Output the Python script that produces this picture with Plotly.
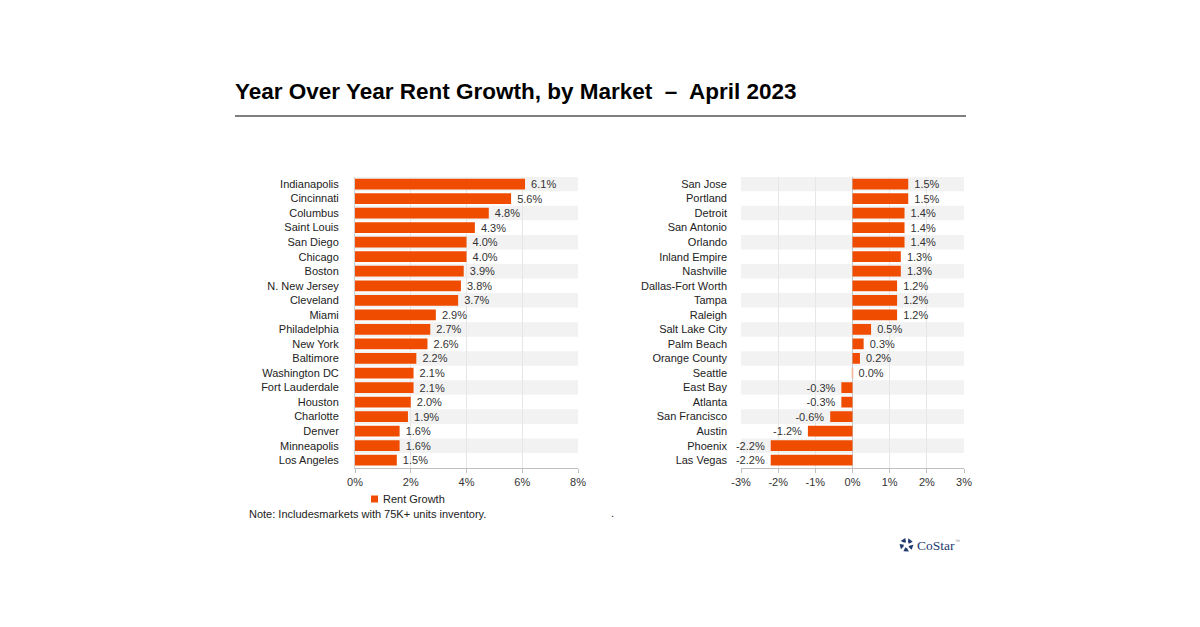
import math
import plotly.graph_objects as go

left_markets = ["Indianapolis", "Cincinnati", "Columbus", "Saint Louis", "San Diego", "Chicago",
                "Boston", "N. New Jersey", "Cleveland", "Miami", "Philadelphia", "New York",
                "Baltimore", "Washington DC", "Fort Lauderdale", "Houston", "Charlotte",
                "Denver", "Minneapolis", "Los Angeles"]
left_values = [6.1, 5.6, 4.8, 4.3, 4.0, 4.0, 3.9, 3.8, 3.7, 2.9, 2.7, 2.6, 2.2, 2.1, 2.1,
               2.0, 1.9, 1.6, 1.6, 1.5]

right_markets = ["San Jose", "Portland", "Detroit", "San Antonio", "Orlando", "Inland Empire",
                 "Nashville", "Dallas-Fort Worth", "Tampa", "Raleigh", "Salt Lake City",
                 "Palm Beach", "Orange County", "Seattle", "East Bay", "Atlanta",
                 "San Francisco", "Austin", "Phoenix", "Las Vegas"]
right_values = [1.5, 1.5, 1.4, 1.4, 1.4, 1.3, 1.3, 1.2, 1.2, 1.2, 0.5, 0.3, 0.2, 0.0, -0.3,
                -0.3, -0.6, -1.2, -2.2, -2.2]

left_ticks = [0, 2, 4, 6, 8]
left_tick_labels = ["0%", "2%", "4%", "6%", "8%"]
right_ticks = [-3, -2, -1, 0, 1, 2, 3]
right_tick_labels = ["-3%", "-2%", "-1%", "0%", "1%", "2%", "3%"]

series_name = "Rent Growth"
BAR = "#F04C00"
FONT = "Liberation Sans, Arial, sans-serif"
NAVY = "#1E3A6E"
W, H = 1200, 627
NB = "\u00a0"

fig = go.Figure()

for vals, cats, xa, ya in [(left_values, left_markets, "x", "y"),
                           (right_values, right_markets, "x2", "y2")]:
    # zero-valued bars still show as a faint sliver, as in the reference
    line_w = [1.6 if v == 0 else 0 for v in vals]
    labels = [(f"{v:.1f}%{NB}" if v < 0 else f"{NB}{v:.1f}%") for v in vals]
    fig.add_trace(go.Bar(
        x=vals, y=cats, orientation="h", xaxis=xa, yaxis=ya,
        marker=dict(color=BAR, line=dict(width=line_w, color="#F3B89C")),
        text=labels, textposition="outside",
        textfont=dict(size=11, color="#333333", family=FONT),
        cliponaxis=False, constraintext="none", showlegend=False, name=series_name,
    ))


def px(x):
    return x / W


def py(y):
    return 1 - y / H


ydom = [py(467.5), py(176.75)]

axis_common = dict(
    showgrid=True, gridcolor="#E6E6E6", gridwidth=1,
    showline=True, linecolor="#BFBFBF", linewidth=1,
    ticks="outside", ticklen=4, tickcolor="#BFBFBF", tickmode="array",
    tickfont=dict(size=11, color="#333333", family=FONT),
    zeroline=False, fixedrange=True,
)
fig.update_layout(
    xaxis=dict(domain=[px(355), px(578)], range=[0, 8], tickvals=left_ticks,
               ticktext=left_tick_labels, anchor="y", **axis_common),
    xaxis2=dict(domain=[px(741), px(964)], range=[-3, 3], tickvals=right_ticks,
                ticktext=right_tick_labels, anchor="y2", **axis_common),
    yaxis=dict(domain=ydom, autorange="reversed", anchor="x", showgrid=False, showline=True,
               linecolor="#D0D0D0", ticks="", ticklabelstandoff=13, fixedrange=True,
               tickfont=dict(size=11, color="#222222", family=FONT)),
    yaxis2=dict(domain=ydom, autorange="reversed", anchor="x2", showgrid=False, showline=False,
                ticks="", ticklabelstandoff=13, fixedrange=True,
                tickfont=dict(size=11, color="#222222", family=FONT)),
)
fig.update_layout(xaxis2_zeroline=True, xaxis2_zerolinecolor="#C8C8C8", xaxis2_zerolinewidth=1)

shapes = []
for i in range(0, 20, 2):
    for xr, yr in [("x domain", "y"), ("x2 domain", "y2")]:
        shapes.append(dict(type="rect", xref=xr, yref=yr, x0=0, x1=1, y0=i - 0.5, y1=i + 0.5,
                           fillcolor="#F2F2F2", line=dict(width=0), layer="below"))

# title underline
shapes.append(dict(type="line", xref="paper", yref="paper", x0=px(235), x1=px(966),
                   y0=py(116), y1=py(116), line=dict(color="#000000", width=1)))
# legend swatch
shapes.append(dict(type="rect", xref="paper", yref="paper", x0=px(371), x1=px(378),
                   y0=py(502.5), y1=py(495.5), fillcolor=BAR, line=dict(width=0)))

# CoStar logo mark: pinwheel of five blocky pieces
cx, cy = 906.5, 545.0
r_in, r_out = 2.6, 7.0
for k in range(5):
    a = math.radians(100 + k * 72)
    a2 = a + math.radians(46)
    pts = []
    for ang, rad in [(a, r_in), (a, r_out), (a2, r_out), (a2 - math.radians(8), r_in + 1.0)]:
        X = cx + rad * math.cos(ang)
        Y = cy - rad * math.sin(ang)
        pts.append(f"{px(X):.5f},{py(Y):.5f}")
    path = "M" + " L".join(pts) + " Z"
    shapes.append(dict(type="path", xref="paper", yref="paper", path=path,
                       fillcolor=NAVY, line=dict(width=0)))

annotations = [
    dict(text="<b>Year Over Year Rent Growth, by Market  –  April 2023</b>", x=px(233), y=py(92),
         xref="paper", yref="paper", xanchor="left", yanchor="middle", showarrow=False,
         font=dict(size=22.5, color="#000000", family=FONT)),
    dict(text=series_name, x=px(381), y=py(499), xref="paper", yref="paper", xanchor="left",
         yanchor="middle", showarrow=False, font=dict(size=11, color="#222222", family=FONT)),
    dict(text="Note: Includesmarkets with 75K+ units inventory.", x=px(247), y=py(514),
         xref="paper", yref="paper", xanchor="left", yanchor="middle", showarrow=False,
         font=dict(size=11, color="#222222", family=FONT)),
    dict(text=".", x=px(609), y=py(513), xref="paper", yref="paper", xanchor="left",
         yanchor="middle", showarrow=False, font=dict(size=11, color="#222222", family=FONT)),
    dict(text="CoStar", x=px(915), y=py(545), xref="paper", yref="paper",
         xanchor="left", yanchor="middle", showarrow=False,
         font=dict(size=13.5, color=NAVY, family="Liberation Serif, serif")),
    dict(text="™", x=px(953), y=py(541), xref="paper", yref="paper",
         xanchor="left", yanchor="middle", showarrow=False,
         font=dict(size=5, color="#8A8A8A", family=FONT)),
]

fig.update_layout(
    width=W, height=H, margin=dict(l=0, r=0, t=0, b=0, autoexpand=False),
    paper_bgcolor="#FFFFFF", plot_bgcolor="rgba(0,0,0,0)",
    bargap=0.26, showlegend=False, shapes=shapes, annotations=annotations,
    font=dict(family=FONT), template="none",
)

fig.write_html(
    "out.html",
    config={"responsive": False, "displayModeBar": False},
    post_script="document.body.style.margin='0';document.body.style.overflow='hidden';",
)
